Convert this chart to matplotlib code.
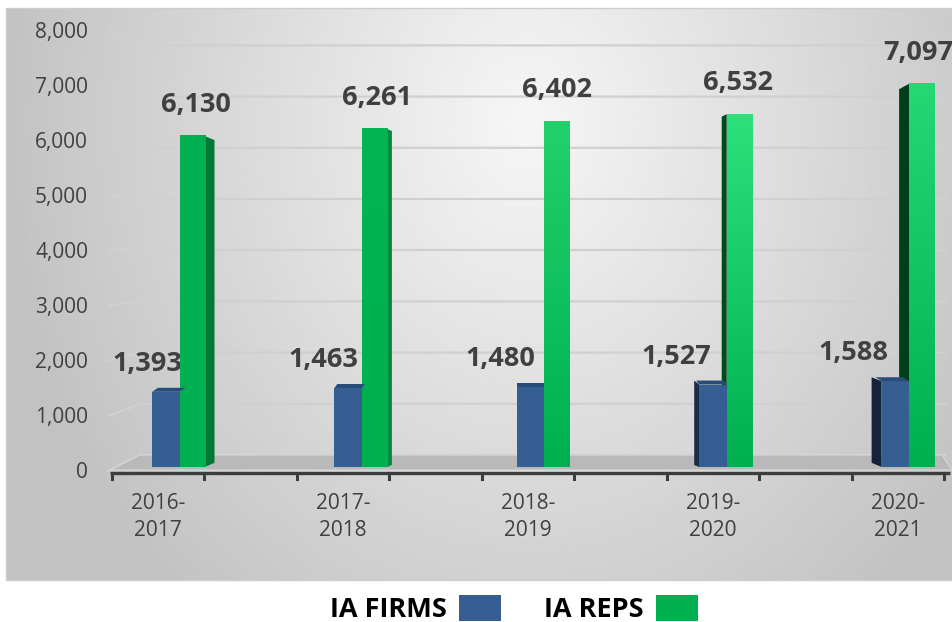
import numpy as np
import matplotlib.pyplot as plt
from matplotlib.patches import Polygon, Rectangle, Patch
from matplotlib.colors import LinearSegmentedColormap

years = ["2016-\n2017", "2017-\n2018", "2018-\n2019", "2019-\n2020", "2020-\n2021"]
ia_firms = [1393, 1463, 1480, 1527, 1588]
ia_reps = [6130, 6261, 6402, 6532, 7097]
yticks = [0, 1000, 2000, 3000, 4000, 5000, 6000, 7000, 8000]

# colours per bar (pseudo 3d shading)
blue = '#355f93'
blue_cap = '#2a4c78'
blue_side = ['#24406a', '#24406a', '#24406a', '#1b2c48', '#14233a']
green = '#00b050'
green_top = ['#00b050', '#03b453', '#22d06c', '#2ee07c', '#25d874']
green_side = ['#007a36', '#008a3e', '#006a30', '#004a20', '#003f1b']
txt = '#404040'

plt.rcParams['font.family'] = ['Open Sans', 'DejaVu Sans']

W, H = 953, 622
fig = plt.figure(figsize=(W / 100, H / 100), dpi=100)
fig.patch.set_facecolor('white')

# grey gradient chart area
bg = fig.add_axes([6 / W, 1 - 580 / H, (W - 6) / W, 572 / H])
gx, gy = np.meshgrid(np.linspace(0, 1, 300), np.linspace(0, 1, 200))
r = np.sqrt(((gx - 0.55) / 0.55) ** 2 + ((gy - 0.2) / 1.1) ** 2)
shade = np.clip(0.965 - 0.2 * r, 0.76, 1)
bg.imshow(shade, cmap='gray', vmin=0, vmax=1, aspect='auto', interpolation='bilinear')
bg.axis('off')
fig.patches.append(Rectangle((6 / W, 1 - 580 / H), (W - 6) / W, 572 / H, transform=fig.transFigure,
                             fill=False, ec='#cdcdcd', lw=1))

PX = 185.0          # pixels per category
PY = 432 / 8000     # pixels per unit

ax = fig.add_axes([110 / W, 1 - 467 / H, 840 / W, 432 / H])
ax.axis('off')


def xpx(p):
    return (p - 158) / PX


def ypx(p):
    return (467 - p) / PY


# back wall gridlines with the slanted side wall part
for v in yticks:
    fy = ypx(471 - 55.2 * v / 1000)
    by = ypx(455 - 51.2 * v / 1000)
    ax.plot([xpx(108), xpx(141), xpx(945)], [fy, by, by], color='#d0d0d0', lw=1.6,
            clip_on=False, zorder=1)
    ax.text(xpx(88), ypx(473 - 55.1 * v / 1000), f'{v:,}', ha='right', va='center',
            fontsize=15, color=txt)

# floor
ax.add_patch(Polygon([(xpx(110), ypx(470)), (xpx(140), ypx(455)), (xpx(942), ypx(455)),
                      (xpx(952), ypx(470))], closed=True, fc='#b9b9b9', ec='#d8d8d8',
                     lw=0.8, clip_on=False, zorder=2))

# x axis
ax.plot([xpx(110), xpx(950)], [ypx(473)] * 2, color='#3c3c3c', lw=2.4,
        solid_capstyle='butt', clip_on=False, zorder=3)
for k in range(10):
    xt = -0.25 + 0.5 * k
    ax.plot([xt, xt], [ypx(473), ypx(479)], color='#3c3c3c', lw=2.2, clip_on=False, zorder=3)

for i, lab in enumerate(years):
    ax.text(i, ypx(517), lab, ha='center', va='center', fontsize=15, color=txt,
            linespacing=1.35)

horizon = ypx(300)
for i in range(len(years)):
    vb, vg = ia_firms[i], ia_reps[i]
    d = (2 - i) * 5 / PX
    kd = abs(2 - i) / 2 * 0.025
    bx0 = i + (-6 - 2.6 * i) / PX
    bx1 = bx0 + 27.5 / PX
    gx1 = bx1 + 25 / PX

    def far(y):
        return y + (horizon - y) * kd

    # side faces
    ge = gx1 if d > 0 else bx1
    ax.add_patch(Polygon([(ge, 0), (ge + d, far(0)), (ge + d, far(vg)), (ge, vg)],
                         fc=green_side[i], ec='none', zorder=4, clip_on=False))
    if d < 0:
        ax.add_patch(Polygon([(bx0, 0), (bx0 + d, far(0)), (bx0 + d, vb + 4 / PY), (bx0, vb)],
                             fc=blue_side[i], ec='none', zorder=4, clip_on=False))

    # front faces
    cm = LinearSegmentedColormap.from_list('g%d' % i, [green, green_top[i]])
    ax.imshow(np.linspace(0, 1, 100).reshape(-1, 1), cmap=cm, aspect='auto', origin='lower',
              extent=[bx1, gx1, 0, vg], zorder=5, interpolation='bilinear', clip_on=False)
    ax.add_patch(Rectangle((bx0, 0), bx1 - bx0, vb, fc=blue, ec='none', zorder=6, clip_on=False))
    ax.add_patch(Polygon([(bx0, vb), (bx1, vb), (bx1 + d * 0.6, vb + 4 / PY), (bx0 + d * 0.6, vb + 4 / PY)],
                         fc=blue_cap, ec='none', zorder=6, clip_on=False))

    # value labels
    ax.annotate(f'{vb:,}', (i, vb), xytext=(-11 - 8.5 * i, 28), textcoords='offset pixels',
                ha='center', va='center', fontsize=19.5, fontweight='bold', color=txt,
                annotation_clip=False)
    ax.annotate(f'{vg:,}', (i, vg), xytext=(38 - 4.5 * i, 31), textcoords='offset pixels',
                ha='center', va='center', fontsize=19.5, fontweight='bold', color=txt,
                annotation_clip=False)

ax.set_xlim(-0.2595, 4.281)
ax.set_ylim(0, 8000)

fig.legend(handles=[Patch(fc=blue), Patch(fc=green)], labels=['IA FIRMS', 'IA REPS'],
           loc='center', bbox_to_anchor=(514 / W, 1 - 609 / H), ncol=2, frameon=False,
           markerfirst=False, handlelength=1.55, handleheight=1.1, handletextpad=0.45,
           columnspacing=1.6, prop={'weight': 'bold', 'size': 19.5})

fig.savefig('out.png', dpi=100)
